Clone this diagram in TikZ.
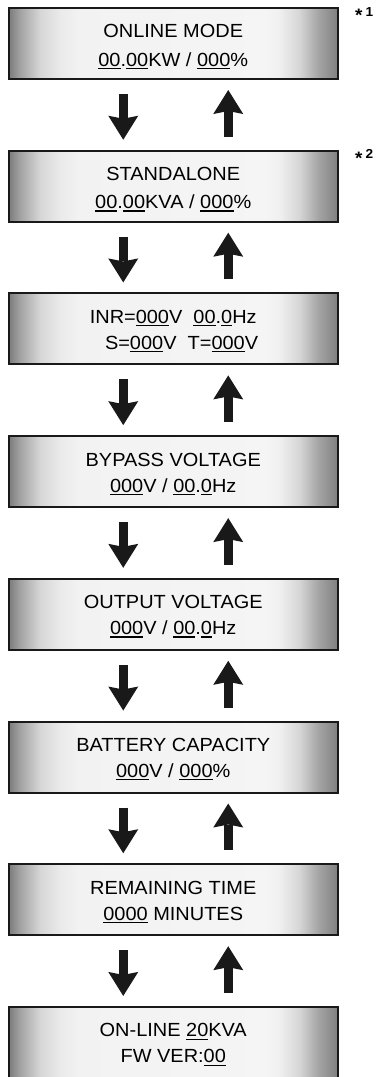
\documentclass[tikz,border=0pt]{standalone}
\usepackage{fontspec}
\setmainfont{Liberation Sans}[FakeStretch=1.05]
\usetikzlibrary{arrows.meta}

% grey LCD face, the box is mapped onto 25bp..75bp
\pgfdeclarehorizontalshading{lcdface}{100bp}{
  color(0bp)=(black!52); color(25bp)=(black!52);
  color(26.8bp)=(black!36); color(29.8bp)=(black!16);
  color(32.9bp)=(black!8); color(35.9bp)=(black!5);
  color(64bp)=(black!4); color(66.1bp)=(black!6);
  color(69.1bp)=(black!16); color(72.1bp)=(black!36);
  color(75bp)=(black!50); color(100bp)=(black!50)}

% underlined digit field
\newcommand{\fld}[1]{\leavevmode\setbox0=\hbox{#1}\rlap{\rule[-2.9pt]{\wd0}{1.3pt}}\box0\relax}
% footnote star
\newcommand{\notestar}{\raisebox{-5.5pt}{\fontsize{18}{18}\selectfont *}\hspace{3pt}}

\tikzset{
  lcd/.style={draw=black!90, line width=2pt, shading=lcdface,
              minimum width=329.5pt, minimum height=71pt, inner sep=0pt,
              align=center, font=\fontsize{19}{26}\selectfont,
              text height=44pt, text depth=3pt},
  dnarrow/.style={line width=9.5pt, black!90,
              -{Stealth[length=24pt, width=30pt, inset=3pt, line width=0pt]}},
  uparrow/.style={dnarrow},
  note/.style={font=\bfseries\fontsize{13}{15}\selectfont, inner sep=0pt, anchor=base west}
}

\begin{document}
\begin{tikzpicture}
  \useasboundingbox (0,0) rectangle (380pt,-1077pt);

  % box centres, one under the other
  \foreach \i in {1,...,8} {
    \coordinate (P\i) at (173.25pt, {-43.5pt - 142.7pt*(\i - 1)});
  }

  % menu screens
  \node[lcd, text height=48pt] (B1) at (P1) {ONLINE MODE\\[2.5pt] \fld{00}.\fld{00}KW / \fld{000}\%};
  \node[lcd, text height=48pt] (B2) at (P2) {STANDALONE\\[2.5pt] \fld{00}.\fld{00}KVA / \fld{000}\%};
  \node[lcd] (B3) at (P3) {INR=\fld{000}V\ \ \fld{00}.\fld{0}Hz\\
                           \ \ \ S=\fld{000}V\ \ T=\fld{000}V};
  \node[lcd] (B4) at (P4) {BYPASS VOLTAGE\\ \fld{000}V / \fld{00}.\fld{0}Hz};
  \node[lcd] (B5) at (P5) {OUTPUT VOLTAGE\\ \fld{000}V / \fld{00}.\fld{0}Hz};
  \node[lcd] (B6) at (P6) {BATTERY CAPACITY\\ \fld{000}V / \fld{000}\%};
  \node[lcd] (B7) at (P7) {REMAINING TIME\\ \fld{0000} MINUTES};
  \node[lcd] (B8) at (P8) {ON-LINE \fld{20}KVA\\ FW VER:\fld{00}};

  % footnote marks
  \node[note] (S1) at ([xshift=16pt, yshift=-9pt]B1.north east) {\notestar 1};
  \node[note] (S2) at ([xshift=16pt, yshift=-9pt]B2.north east) {\notestar 2};

  % scroll down (left) and up (right) between screens
  \foreach \i in {1,...,7} {
    \pgfmathtruncatemacro{\j}{\i + 1}
    \draw[dnarrow] ([xshift=-50pt, yshift=-14pt]B\i.south) -- ([xshift=-50pt, yshift=10pt]B\j.north);
    \draw[uparrow] ([xshift=55pt, yshift=13pt]B\j.north) -- ([xshift=55pt, yshift=-10pt]B\i.south);
  }
\end{tikzpicture}
\end{document}
